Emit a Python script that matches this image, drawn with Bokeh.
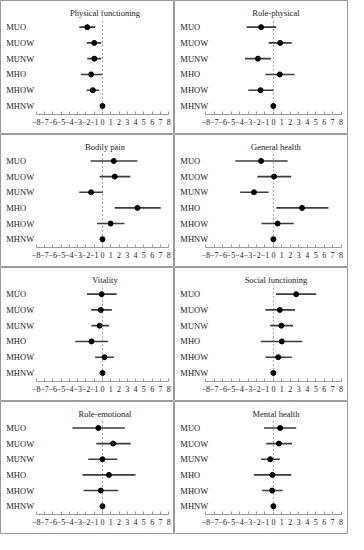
from bokeh.plotting import figure
from bokeh.layouts import gridplot
from bokeh.models import ColumnDataSource, LinearAxis, FixedTicker, Range1d
from bokeh.core.properties import value
from bokeh.embed import file_html
from bokeh.resources import INLINE

groups = ["MUO", "MUOW", "MUNW", "MHO", "MHOW", "MHNW"]
tick_values = list(range(-8, 9))
tick_labels = ["\u2212%d" % -t if t < 0 else str(t) for t in tick_values]

titles = ["Physical functioning", "Role-physical", "Bodily pain", "General health",
          "Vitality", "Social functioning", "Role-emotional", "Mental health"]

physical_functioning_est = [-1.84, -1.00, -0.98, -1.37, -1.17, 0.0]
physical_functioning_low = [-2.80, -1.90, -1.84, -2.60, -1.90, 0.0]
physical_functioning_high = [-0.86, -0.15, -0.15, 0.00, -0.40, 0.0]

role_physical_est = [-1.45, 0.80, -1.83, 0.76, -1.52, 0.0]
role_physical_low = [-3.16, -0.57, -3.35, -0.95, -2.97, 0.0]
role_physical_high = [0.34, 2.17, -0.30, 2.51, 0.00, 0.0]

bodily_pain_est = [1.37, 1.48, -1.37, 4.22, 0.98, 0.0]
bodily_pain_low = [-1.45, -0.35, -2.81, 1.48, -0.66, 0.0]
bodily_pain_high = [4.22, 3.36, 0.04, 7.03, 2.66, 0.0]

general_health_est = [-1.45, 0.08, -2.29, 3.39, 0.50, 0.0]
general_health_low = [-4.50, -1.90, -3.92, 0.34, -1.41, 0.0]
general_health_high = [1.68, 2.10, -0.57, 6.51, 2.40, 0.0]

vitality_est = [-0.10, -0.20, -0.35, -1.33, 0.23, 0.0]
vitality_low = [-1.87, -1.37, -1.33, -3.28, -0.90, 0.0]
vitality_high = [1.72, 1.13, 0.78, 0.66, 1.37, 0.0]

social_functioning_est = [2.70, 0.76, 0.95, 0.99, 0.57, 0.0]
social_functioning_low = [0.30, -0.95, -0.38, -1.49, -0.95, 0.0]
social_functioning_high = [5.07, 2.55, 2.32, 3.43, 2.17, 0.0]

role_emotional_est = [-0.50, 1.29, 0.00, 0.78, -0.20, 0.0]
role_emotional_low = [-3.63, -0.74, -1.72, -2.42, -2.27, 0.0]
role_emotional_high = [2.70, 3.40, 1.80, 3.98, 1.91, 0.0]

mental_health_est = [0.80, 0.65, -0.38, -0.11, -0.15, 0.0]
mental_health_low = [-1.10, -0.84, -1.45, -2.29, -1.33, 0.0]
mental_health_high = [2.70, 2.20, 0.76, 2.10, 1.10, 0.0]

panels = [
    (physical_functioning_est, physical_functioning_low, physical_functioning_high),
    (role_physical_est, role_physical_low, role_physical_high),
    (bodily_pain_est, bodily_pain_low, bodily_pain_high),
    (general_health_est, general_health_low, general_health_high),
    (vitality_est, vitality_low, vitality_high),
    (social_functioning_est, social_functioning_low, social_functioning_high),
    (role_emotional_est, role_emotional_low, role_emotional_high),
    (mental_health_est, mental_health_low, mental_health_high),
]

FONT = value("Liberation Serif")
AXIS_Y = 0.44


def make_panel(title, est, low, high, col, w, h):
    if col == 0:
        xs, xe, label_x = -12.32, 8.70, -11.62
    else:
        xs, xe, label_x = -11.69, 8.88, -11.0
    p = figure(width=w, height=h, x_range=Range1d(xs, xe), y_range=Range1d(-0.81, 7.69),
               output_backend="svg", toolbar_location=None, tools="", min_border=0,
               x_axis_type=None, y_axis_type=None)
    p.outline_line_color = "#9a9a9a"
    p.outline_line_width = 1
    p.background_fill_color = "white"
    p.border_fill_color = "white"
    ypos = [6 - i for i in range(len(groups))]
    src = ColumnDataSource(dict(group=groups, y=ypos, est=est, low=low, high=high))
    p.segment(x0=0, y0=AXIS_Y, x1=0, y1=6.56, line_dash="2 2", line_color="#a0a0a0", line_width=1)
    p.segment(x0="low", y0="y", x1="high", y1="y", source=src, line_color="#3c3c3c", line_width=1.6)
    p.scatter(x="est", y="y", source=src, size=5, color="black")
    p.text(x=label_x, y="y", text="group", source=src, text_align="left", text_baseline="middle",
           text_font=FONT, text_font_size="8.5px", text_color="#1a1a1a")
    p.text(x=[0.3], y=[6.875], text=[title], text_align="center", text_baseline="middle",
           text_font=FONT, text_font_size="8.5px", text_color="#1a1a1a")
    axis = LinearAxis(fixed_location=AXIS_Y, bounds=(-8, 8), ticker=FixedTicker(ticks=tick_values),
                      major_label_overrides={t: l for t, l in zip(tick_values, tick_labels)})
    axis.axis_line_color = "#9a9a9a"
    axis.major_tick_line_color = "#9a9a9a"
    axis.major_tick_in = 3
    axis.major_tick_out = 0
    axis.minor_tick_line_color = None
    axis.major_label_standoff = 4
    axis.major_label_text_font = "Liberation Serif"
    axis.major_label_text_font_size = "8px"
    axis.major_label_text_color = "#1a1a1a"
    p.add_layout(axis, "below")
    return p


W = 174
heights = [134, 133, 134, 133]
rows = []
for r in range(4):
    row = []
    for c in range(2):
        k = r * 2 + c
        est, low, high = panels[k]
        row.append(make_panel(titles[k], est, low, high, c, W, heights[r]))
    rows.append(row)

grid = gridplot(rows, toolbar_location=None)

open("out.html", "w").write(file_html(grid, INLINE))
